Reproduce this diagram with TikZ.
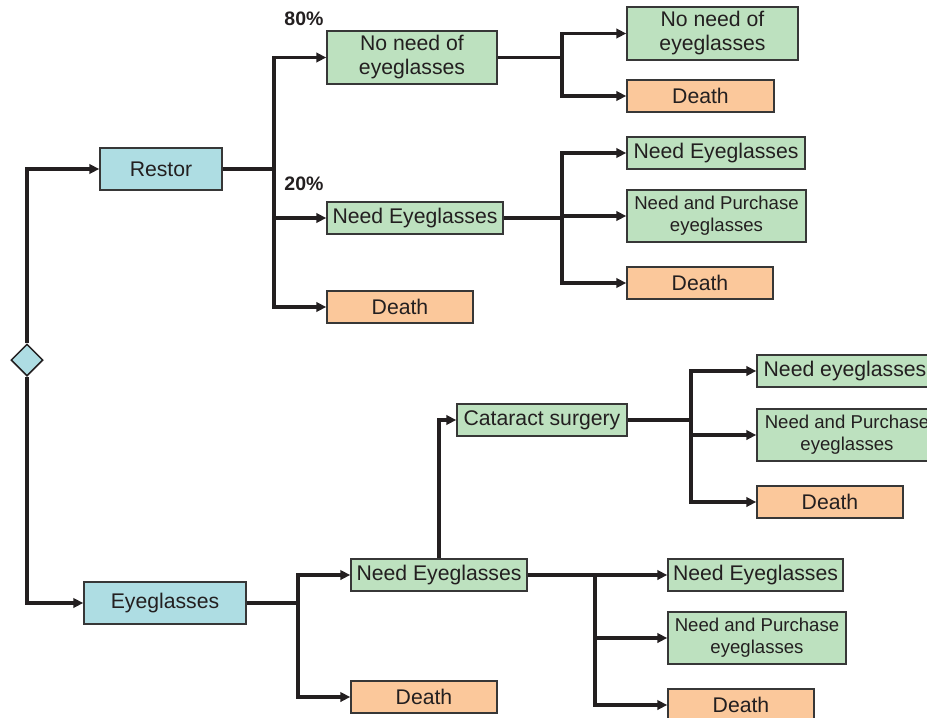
\documentclass[tikz,border=0pt]{standalone}
\usepackage{fontspec}
\setmainfont{Liberation Sans}
\usetikzlibrary{arrows.meta,shapes.geometric}
\definecolor{ink}{RGB}{35,31,32}
\definecolor{edge}{RGB}{55,55,55}
\definecolor{bluefill}{RGB}{174,221,227}
\definecolor{greenfill}{RGB}{189,225,191}
\definecolor{orangefill}{RGB}{251,200,155}
\tikzset{
  box/.style={draw=edge, line width=1.5pt, inner sep=0pt, text=ink, align=center,
    font=\fontsize{21.2}{24}\selectfont},
  bluebox/.style={box, fill=bluefill},
  greenbox/.style={box, fill=greenfill},
  orangebox/.style={box, fill=orangefill},
  smalltxt/.style={font=\fontsize{18.6}{22}\selectfont},
  conn/.style={draw=ink, line width=3.1pt},
  arr/.style={conn, -{Triangle[length=10pt,width=9.5pt]}},
  pct/.style={text=ink, font=\bfseries\fontsize{19.5}{22}\selectfont, inner sep=0pt}
}
\begin{document}
\begin{tikzpicture}[x=1pt,y=-1pt]
\useasboundingbox (0,0) rectangle (927,718);
% root
\node[diamond, draw=ink, line width=1.5pt, fill=bluefill, minimum width=32, minimum height=32, inner sep=0pt] (root) at (27,360) {};
% top branch
\node[bluebox, minimum width=122, minimum height=42] (restor) at (161,169) {Restor};
\node[greenbox, minimum width=170, minimum height=53] (nn1) at (412,57.5) {No need of\\eyeglasses};
\node[greenbox, minimum width=176, minimum height=32] (ne1) at (415,218) {Need Eyeglasses};
\node[orangebox, minimum width=146, minimum height=32] (d1) at (400,307) {Death};
\node[pct] (p80) at (304,19) {80\%};
\node[pct] (p20) at (304,184) {20\%};
\node[greenbox, minimum width=171, minimum height=53] (nn2) at (712.5,33.5) {No need of\\eyeglasses};
\node[orangebox, minimum width=147, minimum height=32] (d2) at (700.5,96) {Death};
\node[greenbox, minimum width=178, minimum height=32] (ne2) at (716,153) {Need Eyeglasses};
\node[greenbox, smalltxt, minimum width=179, minimum height=52] (np2) at (716.5,216) {Need and Purchase\\eyeglasses};
\node[orangebox, minimum width=146, minimum height=32] (d3) at (700,283) {Death};
% bottom branch
\node[bluebox, minimum width=162, minimum height=42] (eye) at (165,603) {Eyeglasses};
\node[greenbox, minimum width=176, minimum height=32] (ne3) at (439,575) {Need Eyeglasses};
\node[orangebox, minimum width=146, minimum height=32] (d4) at (424,697) {Death};
\node[greenbox, minimum width=170, minimum height=32] (cat) at (542,420) {Cataract surgery};
\node[greenbox, minimum width=176, minimum height=32] (ne4) at (845,371) {Need eyeglasses};
\node[greenbox, smalltxt, minimum width=180, minimum height=52] (np4) at (847,435) {Need and Purchase\\eyeglasses};
\node[orangebox, minimum width=146, minimum height=32] (d5) at (830,502) {Death};
\node[greenbox, minimum width=175, minimum height=32] (ne5) at (755.5,575) {Need Eyeglasses};
\node[greenbox, smalltxt, minimum width=178, minimum height=52] (np5) at (757,638) {Need and Purchase\\eyeglasses};
\node[orangebox, minimum width=146, minimum height=32] (d6) at (741,705) {Death};
% junctions
\coordinate (j1) at (274,169);
\coordinate (j2) at (562,57.5);
\coordinate (j3) at (562,218);
\coordinate (j4) at (298,603);
\coordinate (j5) at (691,420);
\coordinate (j6) at (595,575);
% connectors
\draw[arr] (root.north) |- (restor.west);
\draw[arr] (root.south) |- (eye.west);
\draw[conn] (restor.east) -- (j1);
\draw[arr] (j1) |- (nn1.west);
\draw[arr] (j1) |- (ne1.west);
\draw[arr] (j1) |- (d1.west);
\draw[conn] (nn1.east) -- (j2);
\draw[arr] (j2) |- (nn2.west);
\draw[arr] (j2) |- (d2.west);
\draw[conn] (ne1.east) -- (j3);
\draw[arr] (j3) |- (ne2.west);
\draw[arr] (j3) |- (np2.west);
\draw[arr] (j3) |- (d3.west);
\draw[conn] (eye.east) -- (j4);
\draw[arr] (j4) |- (ne3.west);
\draw[arr] (j4) |- (d4.west);
\draw[arr] (ne3.north) |- (cat.west);
\draw[conn] (cat.east) -- (j5);
\draw[arr] (j5) |- (ne4.west);
\draw[arr] (j5) |- (np4.west);
\draw[arr] (j5) |- (d5.west);
\draw[conn] (ne3.east) -- (j6);
\draw[arr] (j6) |- (ne5.west);
\draw[arr] (j6) |- (np5.west);
\draw[arr] (j6) |- (d6.west);
\end{tikzpicture}
\end{document}
